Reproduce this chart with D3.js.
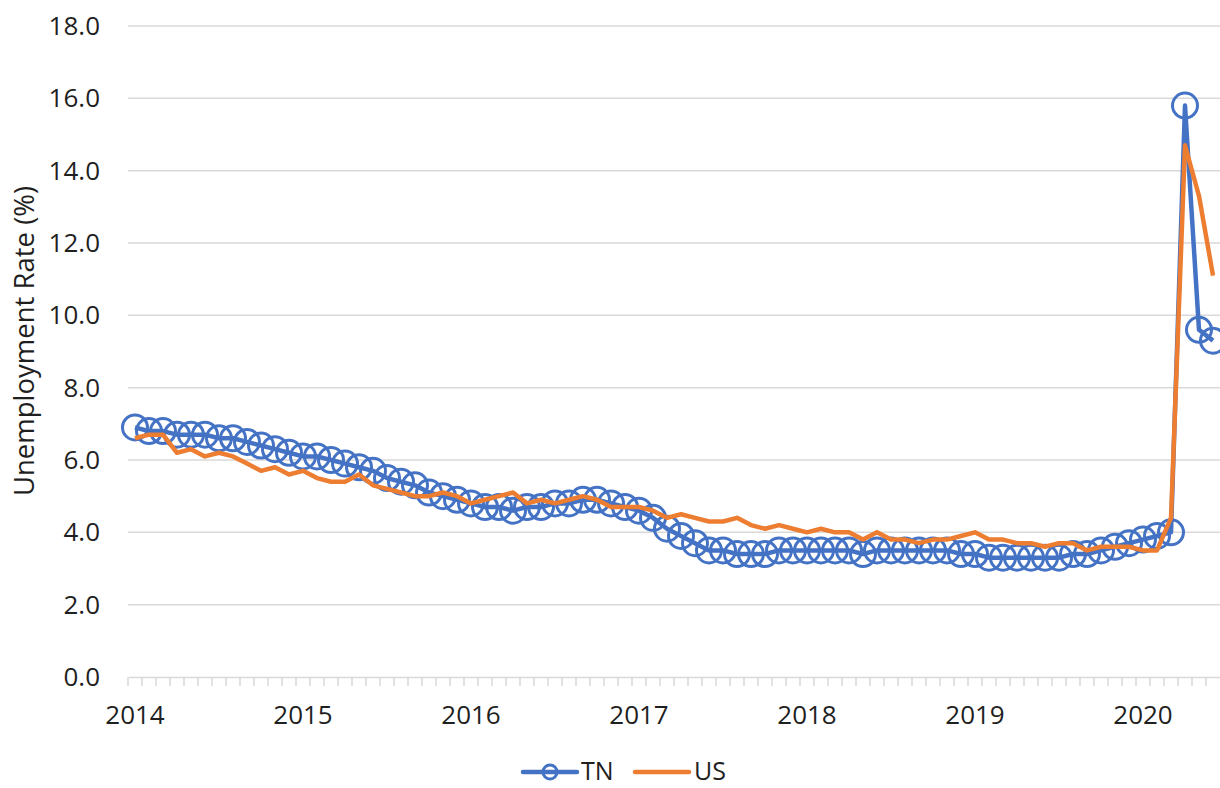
<!DOCTYPE html>
<html>
<head>
<meta charset="utf-8">
<script src="https://cdn.jsdelivr.net/npm/d3@7"></script>
<style>
  body { margin: 0; background: #fff; }
  svg { display: block; font-family: "Open Sans", sans-serif; }
  .grid line { stroke: #d9d9d9; stroke-width: 1.5; }
  .tick-label { font-size: 26px; fill: #1f1f1f; }
</style>
</head>
<body>
<svg id="chart" width="1220" height="788"></svg>
<script>
// monthly categories Jan 2014 .. Jun 2020
var months = d3.timeMonth.range(new Date(2014, 0, 1), new Date(2020, 6, 1));

var tnValues = [
    6.9, 6.8, 6.8, 6.7, 6.7, 6.7, 6.6, 6.6, 6.5, 6.4, 6.3, 6.2,
    6.1, 6.1, 6.0, 5.9, 5.8, 5.7, 5.5, 5.4, 5.3, 5.1, 5.0, 4.9,
    4.8, 4.7, 4.7, 4.6, 4.7, 4.7, 4.8, 4.8, 4.9, 4.9, 4.8, 4.7,
    4.6, 4.4, 4.1, 3.9, 3.7, 3.5, 3.5, 3.4, 3.4, 3.4, 3.5, 3.5,
    3.5, 3.5, 3.5, 3.5, 3.4, 3.5, 3.5, 3.5, 3.5, 3.5, 3.5, 3.4,
    3.4, 3.3, 3.3, 3.3, 3.3, 3.3, 3.3, 3.4, 3.4, 3.5, 3.6, 3.7,
    3.8, 3.9, 4.0, 15.8, 9.6, 9.3
];

var usValues = [
    6.6, 6.7, 6.7, 6.2, 6.3, 6.1, 6.2, 6.1, 5.9, 5.7, 5.8, 5.6,
    5.7, 5.5, 5.4, 5.4, 5.6, 5.3, 5.2, 5.1, 5.0, 5.0, 5.1, 5.0,
    4.8, 4.9, 5.0, 5.1, 4.8, 4.9, 4.8, 4.9, 5.0, 4.9, 4.7, 4.7,
    4.7, 4.6, 4.4, 4.5, 4.4, 4.3, 4.3, 4.4, 4.2, 4.1, 4.2, 4.1,
    4.0, 4.1, 4.0, 4.0, 3.8, 4.0, 3.8, 3.8, 3.7, 3.8, 3.8, 3.9,
    4.0, 3.8, 3.8, 3.7, 3.7, 3.6, 3.7, 3.7, 3.5, 3.6, 3.6, 3.6,
    3.5, 3.5, 4.4, 14.7, 13.3, 11.1
];

var yTicks = [0, 2, 4, 6, 8, 10, 12, 14, 16, 18];

var blue = "#4472c4", orange = "#ed7d31";

var svg = d3.select("#chart");

var x = d3.scaleBand()
    .domain(months.map(function(d, i) { return i; }))
    .range([128, 1220])
    .padding(0);

var y = d3.scaleLinear().domain([0, 18]).range([677, 26]);

function cx(i) { return x(i) + x.bandwidth() / 2; }

// gridlines
svg.append("g").attr("class", "grid")
    .selectAll("line")
    .data(yTicks.filter(function(d) { return d > 0; }))
    .enter().append("line")
    .attr("x1", 128).attr("x2", 1220)
    .attr("y1", function(d) { return y(d); })
    .attr("y2", function(d) { return y(d); });

// y tick labels
svg.append("g")
    .selectAll("text")
    .data(yTicks)
    .enter().append("text")
    .attr("class", "tick-label")
    .attr("x", 100)
    .attr("y", function(d) { return y(d); })
    .attr("dy", "0.35em")
    .attr("text-anchor", "end")
    .text(function(d) { return d.toFixed(1); });

// x axis
var xAxis = d3.axisBottom(x)
    .tickSizeInner(0)
    .tickSizeOuter(0)
    .tickFormat("");
var gx = svg.append("g").attr("transform", "translate(0,677)").call(xAxis);
gx.select(".domain").attr("stroke", "#d9d9d9").attr("stroke-width", 1.5);
gx.selectAll(".tick").remove();

// month boundary ticks
gx.selectAll(".mtick")
    .data(months.map(function(d, i) { return i; }))
    .enter().append("line")
    .attr("class", "mtick")
    .attr("x1", function(i) { return x(i); })
    .attr("x2", function(i) { return x(i); })
    .attr("y1", 0).attr("y2", 9)
    .attr("stroke", "#d9d9d9")
    .attr("stroke-width", 1.5);

// year labels
svg.append("g")
    .selectAll("text")
    .data(months.map(function(d, i) { return { d: d, i: i }; })
        .filter(function(m) { return m.d.getMonth() === 0; }))
    .enter().append("text")
    .attr("class", "tick-label")
    .attr("x", function(m) { return cx(m.i); })
    .attr("y", 715)
    .attr("dy", "0.35em")
    .attr("text-anchor", "middle")
    .text(function(m) { return m.d.getFullYear(); });

// y axis title
svg.append("text")
    .attr("transform", "translate(34,341) rotate(-90)")
    .attr("text-anchor", "middle")
    .style("font-size", "27.5px")
    .style("fill", "#1f1f1f")
    .text("Unemployment Rate (%)");

var line = d3.line()
    .x(function(d, i) { return cx(i); })
    .y(function(d) { return y(d); });

// TN series
svg.append("path")
    .datum(tnValues)
    .attr("d", line)
    .attr("fill", "none")
    .attr("stroke", blue)
    .attr("stroke-width", 4.5)
    .attr("stroke-linejoin", "round");

svg.append("g")
    .selectAll("circle")
    .data(tnValues)
    .enter().append("circle")
    .attr("cx", function(d, i) { return cx(i); })
    .attr("cy", function(d) { return y(d); })
    .attr("r", 12.5)
    .attr("fill", "none")
    .attr("stroke", blue)
    .attr("stroke-width", 3);

// US series
svg.append("path")
    .datum(usValues)
    .attr("d", line)
    .attr("fill", "none")
    .attr("stroke", orange)
    .attr("stroke-width", 4.5)
    .attr("stroke-linejoin", "round");

// legend
var legend = svg.append("g").attr("transform", "translate(0,772)");
legend.append("line")
    .attr("x1", 523).attr("x2", 577).attr("y1", 0).attr("y2", 0)
    .attr("stroke", blue).attr("stroke-width", 4.5).attr("stroke-linecap", "round");
legend.append("circle")
    .attr("cx", 550).attr("cy", 0).attr("r", 7)
    .attr("fill", "none").attr("stroke", blue).attr("stroke-width", 3);
legend.append("text")
    .attr("x", 581).attr("y", 0).attr("dy", "0.33em")
    .style("font-size", "25px").style("fill", "#1f1f1f")
    .text("TN");
legend.append("line")
    .attr("x1", 635).attr("x2", 689).attr("y1", 0).attr("y2", 0)
    .attr("stroke", orange).attr("stroke-width", 4.5).attr("stroke-linecap", "round");
legend.append("text")
    .attr("x", 694).attr("y", 0).attr("dy", "0.33em")
    .style("font-size", "25px").style("fill", "#1f1f1f")
    .text("US");
</script>
</body>
</html>
